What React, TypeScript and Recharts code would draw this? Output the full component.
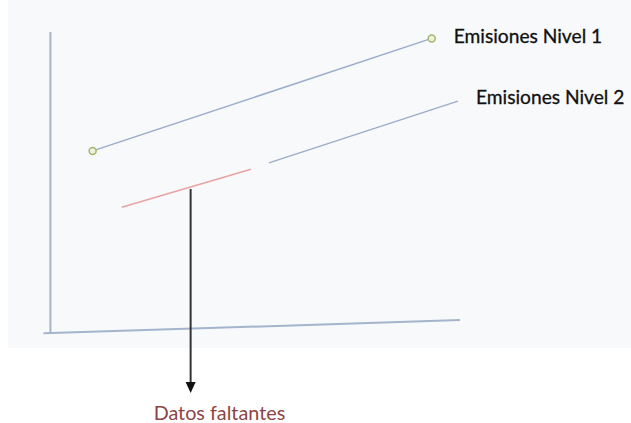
import { ComposedChart, Line, Scatter, XAxis, YAxis } from 'recharts'

// x = time, y = emissions level (arbitrary units)
const ejeY = [
    { x: 0.1, y: 0 },
    { x: 0.1, y: 100.3 },
]
const ejeX = [
    { x: -1.6, y: -0.1 },
    { x: 100, y: 4.3 },
]
const nivel1 = [
    { x: 10.4, y: 60.7 },
    { x: 93.1, y: 98.2 },
]
const nivel2 = [
    { x: 53.4, y: 56.7 },
    { x: 99.5, y: 77.3 },
]
const faltantes = [
    { x: 17.5, y: 41.9 },
    { x: 49.0, y: 54.6 },
]
const flecha = [
    { x: 34.3, y: 48.0 },
    { x: 34.3, y: -17.3 },
]
const puntaFlecha = [{ x: 34.3, y: -20 }]

const SERIES_LABELS = ['Emisiones Nivel 1', 'Emisiones Nivel 2']
const NOTA = 'Datos faltantes'

const AXIS_COLOR = '#a4b4cc'
const LINE_COLOR = '#9aaecb'
const FONT = 'Lato, "Open Sans", sans-serif'

const endLabel = (text: string, dx: number, dy: number) => (props: any) => {
    if (props.index !== 1) return null
    return (
        <text x={props.x + dx} y={props.y + dy} fontSize={19.2} fontFamily={FONT} fill="#111" stroke="#111" strokeWidth={0.3}>
            {text}
        </text>
    )
}

const notaLabel = (props: any) => {
    if (props.index !== 1) return null
    return (
        <text x={props.x - 37} y={props.y + 35} fontSize={19.8} fontFamily={FONT} fill="#8e4444">
            {NOTA}
        </text>
    )
}

const Triangulo = (props: any) => {
    const { cx, cy } = props
    return <polygon points={`${cx - 5},${cy - 11} ${cx + 5},${cy - 11} ${cx},${cy}`} fill="#111" />
}

export default function App() {
    return (
        <div style={{ position: 'absolute', left: 0, top: 0, width: 631, height: 423, background: '#fff' }}>
            <div style={{ position: 'absolute', left: 8, top: 0, width: 623, height: 348, background: '#f8f9fb' }} />
            <div style={{ position: 'absolute', left: 0, top: 0 }}>
                <ComposedChart width={631} height={423} margin={{ top: 0, right: 0, bottom: 0, left: 0 }}>
                    <XAxis type="number" dataKey="x" domain={[-50 / 4.1, 581 / 4.1]} hide />
                    <YAxis type="number" domain={[-30, 111]} hide />
                    <Line data={ejeY} dataKey="y" stroke={AXIS_COLOR} strokeWidth={2} dot={false} activeDot={false} isAnimationActive={false} />
                    <Line data={ejeX} dataKey="y" stroke={AXIS_COLOR} strokeWidth={2} dot={false} activeDot={false} isAnimationActive={false} />
                    <Line
                        data={nivel1}
                        dataKey="y"
                        stroke={LINE_COLOR}
                        strokeWidth={1.5}
                        dot={{ r: 3.5, stroke: '#a3b86c', strokeWidth: 1.5, fill: '#eef2dc' }}
                        activeDot={false}
                        label={endLabel(SERIES_LABELS[0], 22, 5)}
                        isAnimationActive={false}
                    />
                    <Line
                        data={nivel2}
                        dataKey="y"
                        stroke={LINE_COLOR}
                        strokeWidth={1.5}
                        dot={false}
                        activeDot={false}
                        label={endLabel(SERIES_LABELS[1], 18, 3)}
                        isAnimationActive={false}
                    />
                    <Line data={faltantes} dataKey="y" stroke="#e8a3a3" strokeWidth={1.5} dot={false} activeDot={false} isAnimationActive={false} />
                    <Line
                        data={flecha}
                        dataKey="y"
                        stroke="#333"
                        strokeWidth={2}
                        dot={false}
                        activeDot={false}
                        label={notaLabel}
                        isAnimationActive={false}
                    />
                    <Scatter data={puntaFlecha} dataKey="y" shape={<Triangulo />} isAnimationActive={false} />
                </ComposedChart>
            </div>
        </div>
    )
}
